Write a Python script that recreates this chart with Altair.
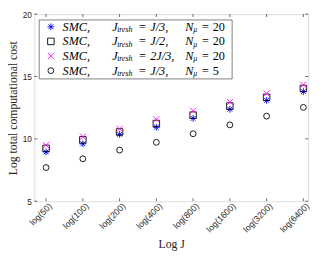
import altair as alt
import pandas as pd

# ---------------- data ----------------
x_labels = ["log(50)", "log(100)", "log(200)", "log(400)",
            "log(800)", "log(1600)", "log(3200)", "log(6400)"]
x_pos = [1, 2, 3, 4, 5, 6, 7, 8]

series_names = ["SMC J/3 N20", "SMC J/2 N20", "SMC 2J/3 N20", "SMC J/3 N5"]
cost_j3_n20 = [8.95, 9.60, 10.36, 10.93, 11.64, 12.37, 13.08, 13.79]
cost_j2_n20 = [9.24, 9.92, 10.55, 11.23, 11.90, 12.63, 13.33, 14.04]
cost_2j3_n20 = [9.49, 10.17, 10.80, 11.57, 12.25, 12.95, 13.64, 14.34]
cost_j3_n5 = [7.70, 8.40, 9.10, 9.72, 10.41, 11.12, 11.82, 12.52]

y_ticks = [5, 10, 15, 20]

legend_coef = ["J/3,", "J/2,", "2J/3,", "J/3,"]
legend_n = ["20", "20", "20", "5"]

# ---------------- style ----------------
W, H = 281, 192
AX = "#262626"
ASTERISK = "M-1,0L1,0M0,-1L0,1M-0.71,-0.71L0.71,0.71M-0.71,0.71L0.71,-0.71"
XMARK = "M-1,-1L1,1M-1,1L1,-1"
shapes = [ASTERISK, "square", XMARK, "circle"]
colors = ["#0000ff", "#000000", "#ff00ff", "#000000"]
sizes = [49, 36, 30, 45]

rows = []
for name, vals in zip(series_names, [cost_j3_n20, cost_j2_n20, cost_2j3_n20, cost_j3_n5]):
    for p, v in zip(x_pos, vals):
        rows.append({"series": name, "pos": p, "cost": v})
df = pd.DataFrame(rows)

xscale = alt.Scale(domain=[0.68, 8.13], nice=False, zero=False)
yscale = alt.Scale(domain=[5, 20], nice=False, zero=False)

label_expr = "[" + ",".join("'%s'" % l for l in x_labels) + "][datum.value - 1]"

x_axis = alt.Axis(values=x_pos, labelExpr=label_expr, labelAngle=-45, labelAlign="right",
                  labelBaseline="middle", labelOffset=4, labelPadding=3, tickSize=0,
                  domain=False, grid=False, labelFont="Liberation Sans", labelFontSize=9,
                  labelColor=AX, title="Log J", titleFont="Liberation Serif",
                  titleFontSize=12, titleFontWeight="normal", titleColor=AX, titlePadding=5)
y_axis = alt.Axis(values=y_ticks, tickSize=0, domain=False, grid=False, labelPadding=3,
                  labelFont="Liberation Sans", labelFontSize=8.5, labelColor=AX,
                  title="Log total computational cost", titleFont="Liberation Serif",
                  titleFontSize=12, titleFontWeight="normal", titleColor=AX, titlePadding=3)

enc_shape = alt.Shape("series:N", scale=alt.Scale(domain=series_names, range=shapes), legend=None)
enc_color = alt.Color("series:N", scale=alt.Scale(domain=series_names, range=colors), legend=None)
enc_size = alt.Size("series:N", scale=alt.Scale(domain=series_names, range=sizes), legend=None)

points = alt.Chart(df).mark_point(filled=False, strokeWidth=0.9, opacity=1).encode(
    x=alt.X("pos:Q", scale=xscale, axis=x_axis),
    y=alt.Y("cost:Q", scale=yscale, axis=y_axis),
    shape=enc_shape, color=enc_color, size=enc_size,
)

xt_df = pd.DataFrame({"pos": x_pos})
yt_df = pd.DataFrame({"cost": y_ticks})
xt_bottom = alt.Chart(xt_df).mark_rule(color=AX, strokeWidth=0.7).encode(
    x=alt.X("pos:Q", scale=xscale, axis=x_axis), y=alt.value(H), y2=alt.value(H - 3))
xt_top = alt.Chart(xt_df).mark_rule(color=AX, strokeWidth=0.7).encode(
    x=alt.X("pos:Q", scale=xscale, axis=x_axis), y=alt.value(0), y2=alt.value(3))
yt_left = alt.Chart(yt_df).mark_rule(color=AX, strokeWidth=0.7).encode(
    y=alt.Y("cost:Q", scale=yscale, axis=y_axis), x=alt.value(0), x2=alt.value(3))
yt_right = alt.Chart(yt_df).mark_rule(color=AX, strokeWidth=0.7).encode(
    y=alt.Y("cost:Q", scale=yscale, axis=y_axis), x=alt.value(W), x2=alt.value(W - 3))

# ---------------- legend ----------------
row_y = [13, 28, 43, 58]
leg_box = alt.Chart(pd.DataFrame({"a": [0]})).mark_rect(
    fill="white", stroke=AX, strokeWidth=0.6).encode(
    x=alt.value(5), x2=alt.value(203), y=alt.value(6), y2=alt.value(66.5))

leg_sym = alt.Chart(pd.DataFrame({"series": series_names, "lx": [17] * 4, "ly": row_y})).mark_point(
    filled=False, strokeWidth=0.9, opacity=1).encode(
    x=alt.X("lx:Q", scale=None, axis=None), y=alt.Y("ly:Q", scale=None, axis=None),
    shape=enc_shape, color=enc_color, size=enc_size)

ital, sub, norm = [], [], []
for i in range(4):
    y = row_y[i]
    ital += [{"t": "SMC,", "lx": 29, "ly": y}, {"t": "J", "lx": 80, "ly": y},
             {"t": legend_coef[i], "lx": 119, "ly": y}, {"t": "N", "lx": 155, "ly": y}]
    sub += [{"t": "tresh", "lx": 85, "ly": y + 3.5}, {"t": "μ", "lx": 163, "ly": y + 3.5}]
    norm += [{"t": "=", "lx": 107.5, "ly": y}, {"t": "=", "lx": 172, "ly": y},
             {"t": legend_n[i], "lx": 183, "ly": y}]


def txt(data, size, style):
    return alt.Chart(pd.DataFrame(data)).mark_text(
        align="left", baseline="middle", font="Liberation Serif", fontSize=size,
        fontStyle=style, color="black").encode(
        x=alt.X("lx:Q", scale=None, axis=None), y=alt.Y("ly:Q", scale=None, axis=None),
        text="t:N")


chart = alt.layer(
    xt_bottom, xt_top, yt_left, yt_right, points,
    leg_box, leg_sym,
    txt(ital, 12.5, "italic"), txt(sub, 8, "italic"), txt(norm, 12.5, "normal"),
).properties(
    width=W, height=H,
    autosize=alt.AutoSizeParams(type="none"),
    padding={"left": 27, "top": 3, "right": 6, "bottom": 55},
).configure_view(stroke=AX, strokeWidth=0.8).configure(background="white")

chart.save("out.html", embed_options={"renderer": "svg", "actions": False})
